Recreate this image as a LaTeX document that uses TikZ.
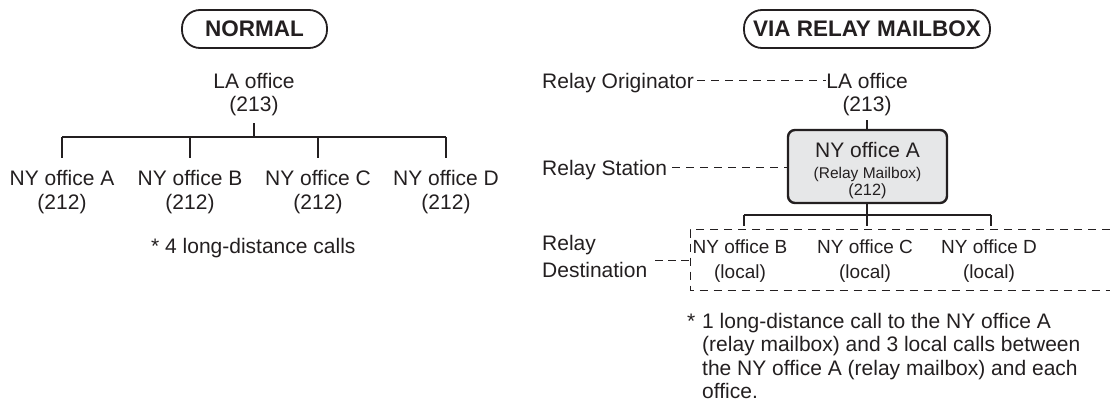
\documentclass[tikz,border=0pt]{standalone}
\usepackage{fontspec}
\setmainfont{Liberation Sans}
\definecolor{ink}{HTML}{231F20}
\definecolor{boxgray}{HTML}{E6E7E8}
\begin{document}
\begin{tikzpicture}[x=1pt,y=-1pt,
  txt/.style={inner sep=0pt, anchor=base, font=\fontsize{21}{25}\selectfont, text=ink},
  txtl/.style={txt, anchor=base west},
  sml/.style={txt, font=\fontsize{19}{23}\selectfont},
  tiny/.style={txt, font=\fontsize{15.5}{19}\selectfont},
  ttl/.style={draw=ink, line width=1.8pt, rounded corners=18pt, minimum height=38pt,
              font=\fontsize{22.5}{26}\selectfont\bfseries, text=ink, inner sep=0pt},
  ln/.style={draw=ink, line width=1.1pt},
  dl/.style={draw=ink, line width=1pt, dash pattern=on 8pt off 6pt},
  relaybox/.style={draw=ink, fill=boxgray, line width=2.4pt, rounded corners=7pt,
                   minimum width=159pt, minimum height=73pt, inner sep=0pt}]
\useasboundingbox (0,0) rectangle (1110,407);

% ---------- titles
\node[ttl, minimum width=145pt] (tnormal) at (254.5,29) {NORMAL};
\node[ttl, minimum width=246pt] (trelay) at (867,29) {VIA RELAY MAILBOX};

% ---------- NORMAL tree
\node[txt] (la) at (254,88) {LA office};
\node[txt] (la2) at (254,111) {(213)};
\coordinate (latop) at (254,123);
\coordinate (lj) at (254,137);
\foreach \n/\x/\l in {a/62/A, b/190/B, c/318/C, d/446/D}{
  \node[txt] (ny\n) at (\x,185) {NY office \l};
  \node[txt] (ny\n2) at (\x,209) {(212)};
  \coordinate (top\n) at (\x,137);
  \coordinate (bot\n) at (\x,158);
  \draw[ln] (top\n) -- (bot\n);
}
\draw[ln] (latop) -- (lj);
\draw[ln] (topa) -- (topd);
\node[txtl] (note1) at (151,253) {* 4 long-distance calls};

% ---------- VIA RELAY MAILBOX
\node[txtl] (orig) at (542,88) {Relay Originator};
\node[txt] (rla) at (867,88) {LA office};
\node[txt] (rla2) at (867,111) {(213)};
\coordinate (od1) at (697,80);
\coordinate (od2) at (826,80);
\draw[dl] (od1) -- (od2);

\node[relaybox] (nya) at (867.5,166.5) {};
\node[txt] (nyat) at (867.5,157) {NY office A};
\node[tiny] (nyam) at (867.5,178.5) {(Relay Mailbox)};
\node[tiny, font=\fontsize{16.3}{19}\selectfont] (nyan) at (867.5,195) {(212)};
\coordinate (rlatop) at (867,120);
\draw[ln] (rlatop) -- (nya.north -| rlatop);

\node[txtl] (station) at (542,175) {Relay Station};
\coordinate (sd1) at (672,167);
\draw[dl] (sd1) -- (nya.west |- sd1);

\coordinate (rj) at (867,215);
\draw[ln] (nya.south -| rj) -- (rj);
\foreach \n/\x/\tx/\l in {b/744/740/B, c/867/865/C, d/991/989/D}{
  \coordinate (rtop\n) at (\x,215);
  \coordinate (rbot\n) at (\x,226);
  \draw[ln] (rtop\n) -- (rbot\n);
  \node[sml] (r\n) at (\tx,253) {NY office \l};
  \node[sml] (r\n2) at (\tx,278) {(local)};
}
\draw[ln] (rtopb) -- (rtopd);

\coordinate (db1) at (1110,229.5);
\coordinate (db2) at (690,229.5);
\coordinate (db3) at (690,290);
\coordinate (db4) at (1110,290);
\draw[dl] (db1) -- (db2) -- (db3) -- (db4);

\node[txtl] (dest1) at (542,250) {Relay};
\node[txtl] (dest2) at (542,277) {Destination};
\coordinate (dd1) at (655,260);
\draw[dl, dash pattern=on 8pt off 5pt] (dd1) -- (db2 |- dd1);

\node[txtl] (star) at (687,328) {*};
\node[txtl] (n1) at (702,328) {1 long-distance call to the NY office A};
\node[txtl] (n2) at (702,351.5) {(relay mailbox) and 3 local calls between};
\node[txtl] (n3) at (702,375) {the NY office A (relay mailbox) and each};
\node[txtl] (n4) at (702,398) {office.};
\end{tikzpicture}
\end{document}
